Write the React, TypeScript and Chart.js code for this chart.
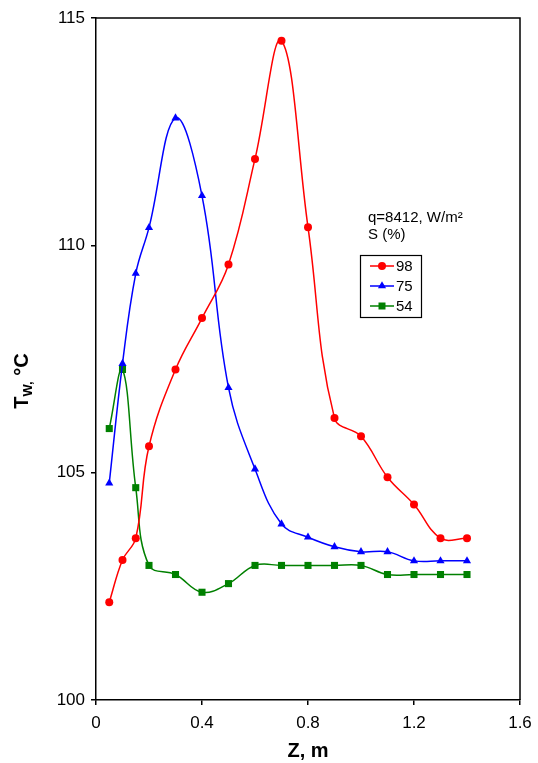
import React, { useEffect, useRef } from "react";
import { Chart, registerables } from "chart.js";

Chart.register(...registerables);

const zPositions = [0.05, 0.1, 0.15, 0.2, 0.3, 0.4, 0.5, 0.6, 0.7, 0.8, 0.9, 1.0, 1.1, 1.2, 1.3, 1.4];
const series98 = [102.15, 103.08, 103.56, 105.58, 107.27, 108.4, 109.58, 111.9, 114.5, 110.4, 106.2, 105.8, 104.9, 104.3, 103.56, 103.56];
const series75 = [104.77, 107.4, 109.38, 110.39, 112.8, 111.09, 106.87, 105.08, 103.87, 103.58, 103.37, 103.26, 103.26, 103.06, 103.06, 103.06];
const series54 = [105.97, 107.27, 104.67, 102.96, 102.76, 102.37, 102.56, 102.96, 102.96, 102.96, 102.96, 102.96, 102.76, 102.76, 102.76, 102.76];
const seriesLabels = ["98", "75", "54"];
const seriesColors = ["#ff0000", "#0000ff", "#008000"];
const seriesMarkers = ["circle", "triangle", "rect"];
const annotationLines = ["q=8412, W/m\u00b2", "S (%)"];
const xTitle = "Z, m";

const FONT = '"Liberation Sans", Arial, Helvetica, sans-serif';

function drawMarker(ctx: CanvasRenderingContext2D, style: string, x: number, y: number, color: string) {
  ctx.fillStyle = color;
  ctx.beginPath();
  if (style === "circle") {
    ctx.arc(x, y, 4, 0, Math.PI * 2);
  } else if (style === "triangle") {
    const r = 4.7;
    ctx.moveTo(x, y - r);
    ctx.lineTo(x + r * 0.866, y + r * 0.5);
    ctx.lineTo(x - r * 0.866, y + r * 0.5);
    ctx.closePath();
  } else {
    ctx.rect(x - 3.5, y - 3.5, 7, 7);
  }
  ctx.fill();
}

const decorPlugin = {
  id: "decor",
  afterDraw(chart: any) {
    const { ctx, chartArea } = chart;
    const { left, right, top, bottom } = chartArea;
    ctx.save();
    // frame top & right
    ctx.strokeStyle = "#000";
    ctx.lineWidth = 1.5;
    ctx.beginPath();
    ctx.moveTo(left, top);
    ctx.lineTo(right, top);
    ctx.lineTo(right, bottom);
    ctx.stroke();

    // annotation
    ctx.fillStyle = "#000";
    ctx.font = `15px ${FONT}`;
    ctx.textBaseline = "middle";
    ctx.textAlign = "left";
    ctx.fillText(annotationLines[0], 368, 218);
    ctx.fillText(annotationLines[1], 368, 235);

    // legend box
    ctx.strokeStyle = "#000";
    ctx.lineWidth = 1.2;
    ctx.strokeRect(360.5, 255.5, 61, 62);
    seriesLabels.forEach((lab, i) => {
      const y = 266 + i * 20;
      ctx.strokeStyle = seriesColors[i];
      ctx.lineWidth = 1.5;
      ctx.beginPath();
      ctx.moveTo(370, y);
      ctx.lineTo(394, y);
      ctx.stroke();
      drawMarker(ctx, seriesMarkers[i], 382, y, seriesColors[i]);
      ctx.fillStyle = "#000";
      ctx.font = `15px ${FONT}`;
      ctx.fillText(lab, 396, y + 1);
    });

    // x title
    ctx.font = `bold 20px ${FONT}`;
    ctx.textAlign = "center";
    ctx.fillText(xTitle, (left + right) / 2, 751);

    // y title with subscript
    ctx.translate(22, 381);
    ctx.rotate(-Math.PI / 2);
    ctx.textAlign = "left";
    const big = `bold 20px ${FONT}`;
    const small = `bold 13px ${FONT}`;
    ctx.font = big;
    const wT = ctx.measureText("T").width;
    const wC = ctx.measureText(" \u00b0C").width;
    ctx.font = small;
    const wW = ctx.measureText("W,").width;
    const total = wT + wW + wC;
    let x = -total / 2;
    ctx.font = big;
    ctx.fillText("T", x, 0);
    x += wT;
    ctx.font = small;
    ctx.fillText("W,", x, 6);
    x += wW;
    ctx.font = big;
    ctx.fillText(" \u00b0C", x, 0);
    ctx.restore();
  },
};

export default function App() {
  const ref = useRef<HTMLCanvasElement | null>(null);
  useEffect(() => {
    if (!ref.current) return;
    const mk = (vals: number[]) => vals.map((v, i) => ({ x: zPositions[i], y: v }));
    const all = [series98, series75, series54];
    const chart = new Chart(ref.current, {
      type: "line",
      data: {
        datasets: all.map((vals, i) => ({
          label: seriesLabels[i],
          data: mk(vals),
          borderColor: seriesColors[i],
          backgroundColor: seriesColors[i],
          pointBackgroundColor: seriesColors[i],
          pointBorderColor: seriesColors[i],
          pointStyle: seriesMarkers[i] as any,
          pointRadius: i === 0 ? 4 : i === 1 ? 4.7 : 5,
          pointBorderWidth: 0,
          borderWidth: 1.5,
          tension: 0.4,
          fill: false,
        })),
      },
      options: {
        responsive: false,
        animation: false,
        events: [],
        layout: { padding: { top: 18, right: 18, left: 0, bottom: 0 } },
        plugins: { legend: { display: false }, tooltip: { enabled: false } },
        elements: { line: { capBezierPoints: false } },
        scales: {
          x: {
            type: "linear",
            min: 0,
            max: 1.6,
            afterFit: (s: any) => {
              s.height = 63;
              s.paddingLeft = 0;
              s.paddingRight = 0;
            },
            ticks: {
              stepSize: 0.4,
              color: "#000",
              font: { family: FONT, size: 17 },
              padding: 8,
              maxRotation: 0,
              callback: (v: any) => String(+Number(v).toFixed(1)),
            },
            grid: { display: true, drawOnChartArea: false, drawTicks: true, tickLength: 5, color: "#000", lineWidth: 1.5 },
            border: { display: true, color: "#000", width: 1.5 },
          },
          y: {
            type: "linear",
            min: 100,
            max: 115,
            afterFit: (s: any) => {
              s.width = 96;
              s.paddingTop = 0;
              s.paddingBottom = 0;
            },
            ticks: {
              stepSize: 5,
              color: "#000",
              font: { family: FONT, size: 17 },
              padding: 6,
            },
            grid: { display: true, drawOnChartArea: false, drawTicks: true, tickLength: 5, color: "#000", lineWidth: 1.5 },
            border: { display: true, color: "#000", width: 1.5 },
          },
        },
      },
      plugins: [decorPlugin],
    });
    return () => chart.destroy();
  }, []);
  return (
    <div style={{ position: "absolute", left: 0, top: 0, width: 538, height: 763, background: "#fff" }}>
      <canvas ref={ref} width={538} height={763} style={{ display: "block", width: 538, height: 763 }} />
    </div>
  );
}
